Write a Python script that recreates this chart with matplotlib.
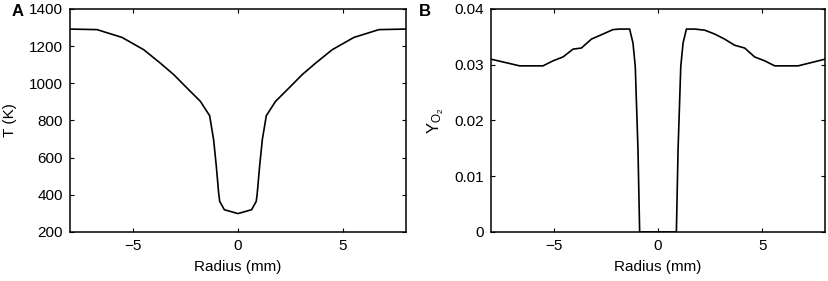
import matplotlib
matplotlib.use("Agg")
import matplotlib.pyplot as plt

plt.rcParams['font.family'] = ['Liberation Sans', 'DejaVu Sans']
plt.rcParams['mathtext.fontset'] = 'custom'
plt.rcParams['mathtext.rm'] = 'Liberation Sans'
plt.rcParams['mathtext.it'] = 'Liberation Sans'
plt.rcParams['font.size'] = 11

# panel A: temperature profile
r_T = [-8.0, -6.71, -5.52, -4.49, -3.7, -3.06, -2.43, -1.79, -1.35, -1.16, -1.03,
       -0.92, -0.87, -0.65, 0.0, 0.65, 0.87, 0.92, 1.03, 1.16, 1.35, 1.79, 2.43,
       3.06, 3.7, 4.49, 5.52, 6.71, 8.0]
T = [1292, 1289, 1247, 1181, 1109, 1047, 975, 903, 826, 697, 553,
     410, 365, 320, 299, 320, 365, 410, 553, 697, 826, 903, 975,
     1047, 1109, 1181, 1247, 1289, 1292]

# panel B: O2 mass fraction
r_O2 = [-8.0, -6.63, -5.51, -5.03, -4.55, -4.07, -3.67, -3.19, -2.64, -2.16, -1.84,
        -1.36, -1.2, -1.09, -0.96, -0.88, 0.0, 0.88, 0.96, 1.09, 1.2, 1.36, 1.76,
        2.24, 2.72, 3.19, 3.67, 4.15, 4.63, 5.11, 5.59, 6.71, 8.0]
Y_O2 = [0.0310, 0.0298, 0.0298, 0.0307, 0.0314, 0.0328, 0.0330, 0.0346, 0.0355, 0.0363, 0.0364,
        0.0364, 0.0339, 0.0297, 0.0148, 0.0, 0.0, 0.0, 0.0148, 0.0297, 0.0339, 0.0364, 0.0364,
        0.0362, 0.0355, 0.0346, 0.0335, 0.0330, 0.0314, 0.0307, 0.0298, 0.0298, 0.0310]

fig = plt.figure(figsize=(8.29, 2.81), dpi=100)
axA = fig.add_axes([0.0844, 0.1744, 0.4053, 0.7936])
axB = fig.add_axes([0.5923, 0.1744, 0.4029, 0.7936])

for ax in (axA, axB):
    ax.tick_params(direction='in', top=True, right=True, length=3, width=0.8,
                   labelsize=11, pad=5)
    for s in ax.spines.values():
        s.set_linewidth(1.1)
    ax.set_xlim(-8, 8)
    ax.set_xticks([-5, 0, 5])
    ax.set_xlabel('Radius (mm)', fontsize=11, labelpad=5)

axA.plot(r_T, T, color='black', lw=1.2)
axA.set_ylim(200, 1400)
axA.set_yticks(range(200, 1401, 200))
axA.set_ylabel('T (K)', fontsize=11, labelpad=9)

axB.plot(r_O2, Y_O2, color='black', lw=1.2)
axB.set_ylim(0, 0.04)
axB.set_yticks([0, 0.01, 0.02, 0.03, 0.04])
axB.set_yticklabels(['0', '0.01', '0.02', '0.03', '0.04'])
axB.set_ylabel(r'$\mathrm{Y_{O_2}}$', fontsize=12, labelpad=6)

fig.text(12 / 829, 1 - 11 / 281, 'A', fontsize=12, fontweight='bold', va='center', ha='left')
fig.text(419 / 829, 1 - 11 / 281, 'B', fontsize=12, fontweight='bold', va='center', ha='left')

fig.savefig('out.png', dpi=100)
